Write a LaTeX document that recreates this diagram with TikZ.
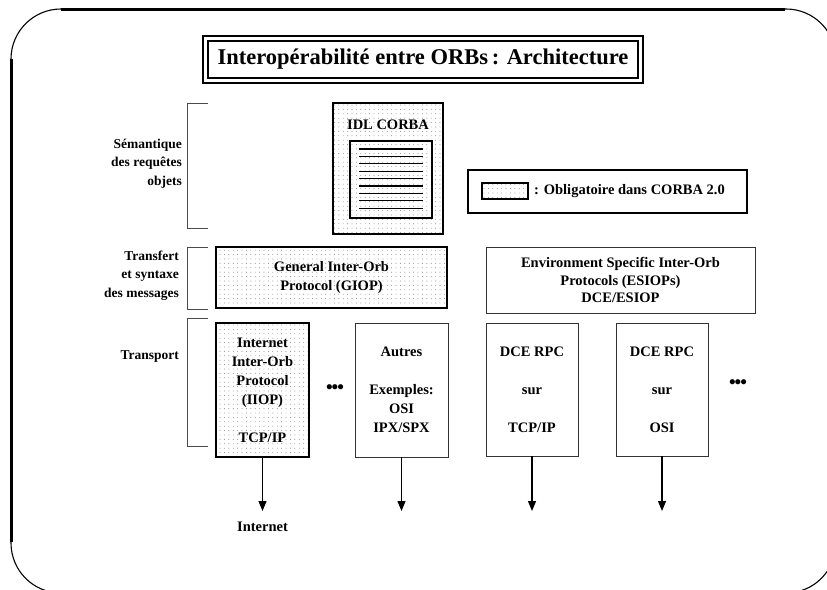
\documentclass[tikz,border=0pt]{standalone}
\usepackage{fontspec}
\setmainfont{Liberation Serif}
\usetikzlibrary{arrows.meta,patterns.meta}
\begin{document}
\begin{tikzpicture}[x=1pt,y=-1pt,
  every node/.style={font=\fontsize{14.5}{19}\selectfont\bfseries, inner sep=0pt, align=center},
  dotted fill/.style={pattern={Dots[distance=4.4pt,radius=0.45pt]}, pattern color=black!55},
  thickbox/.style={draw, line width=1.8pt, dotted fill},
  thinbox/.style={draw=black!80, line width=0.9pt},
  lbl/.style={font=\fontsize{13.5}{18.5}\selectfont\bfseries, align=right, anchor=east},
  brk/.style={draw=black!70, line width=0.8pt},
  dotsstyle/.style={font=\fontsize{19}{19}\selectfont\bfseries},
  arr/.style={line width=1.2pt, -{Triangle[length=10pt,width=8pt]}}
]
\useasboundingbox (0,0) rectangle (827,589);

% slide frame
\draw[line width=1.1pt, rounded corners=50pt] (11,9) rectangle (836,593);
\draw[line width=3pt] (61,9) -- (785,9);
\draw[line width=3pt] (11,59) -- (11,542);

% title
\node[draw, line width=2.2pt, minimum width=440pt, minimum height=47pt] (titleout) at (423,59.5) {};
\node[draw, line width=1.4pt, minimum width=430pt, minimum height=37pt,
      font=\fontsize{22.5}{26}\selectfont\bfseries] (title) at (423,59.5) {Interopérabilité entre ORBs\,: Architecture};

% left labels and brackets
\node[lbl] (lsem) at (182,163.5) {Sémantique\\des requêtes\\objets};
\node[lbl] (ltra) at (179,275.5) {Transfert\\et syntaxe\\des messages};
\node[lbl] (ltrp) at (179,357) {Transport};
\draw[brk] (208,103) -- (187,103) -- (187,228) -- (208,228);
\draw[brk] (208,247) -- (187,247) -- (187,309) -- (208,309);
\draw[brk] (208,318) -- (187,318) -- (187,446) -- (208,446);

% IDL CORBA
\node[thickbox, minimum width=110pt, minimum height=131pt] (idl) at (388,168.5) {};
\node (idltxt) at (388,125) {IDL CORBA};
\node[draw, line width=1.6pt, minimum width=82pt, minimum height=77pt] (idlin) at (391,179.5) {};
\foreach \i in {0,...,8} {
  \draw[line width=1.3pt] (359,149+7.4*\i) -- (423,149+7.4*\i);
}

% GIOP
\node[thickbox, minimum width=231pt, minimum height=61pt] (giop) at (331.5,277.5) {General Inter-Orb\\Protocol (GIOP)};

% legend
\node[draw, line width=1.6pt, minimum width=279pt, minimum height=43pt] (legend) at (607.5,191.5) {};
\node[draw, line width=1.2pt, dotted fill, minimum width=46pt, minimum height=16pt] (legsw) at (505,191) {};
\node[anchor=west] (legtxt) at (534,191) {: Obligatoire dans CORBA 2.0};

% ESIOP
\node[thinbox, minimum width=269pt, minimum height=66pt, font=\fontsize{14.5}{17.5}\selectfont\bfseries] (esiop) at (620.5,280)
  {Environment Specific Inter-Orb\\Protocols (ESIOPs)\\DCE/ESIOP};

% transport boxes
\node[thickbox, minimum width=93pt, minimum height=134pt] (iiop) at (262.5,390)
  {Internet\\Inter-Orb\\Protocol\\(IIOP)\\[19pt]TCP/IP};
\node[dotsstyle] (dots1) at (335,389) {\textbullet\kern-1pt\textbullet\kern-1pt\textbullet};
\node[thinbox, minimum width=93pt, minimum height=134pt] (autres) at (401.5,390)
  {Autres\\[19pt]Exemples:\\OSI\\IPX/SPX};
\node[thinbox, minimum width=92pt, minimum height=133pt] (dce1) at (532,389.5)
  {DCE RPC\\[19pt]sur\\[19pt]TCP/IP};
\node[thinbox, minimum width=92pt, minimum height=133pt] (dce2) at (662,389.5)
  {DCE RPC\\[19pt]sur\\[19pt]OSI};
\node[dotsstyle] (dots2) at (738,384) {\textbullet\kern-1pt\textbullet\kern-1pt\textbullet};

% arrows
\coordinate (e1) at (262.5,511);
\coordinate (e2) at (401.5,511);
\coordinate (e3) at (532,511);
\coordinate (e4) at (662,511);
\draw[arr] (iiop.south) -- (e1);
\draw[arr] (autres.south) -- (e2);
\draw[arr] (dce1.south) -- (e3);
\draw[arr] (dce2.south) -- (e4);
\node (inet) at (262.5,527) {Internet};
\end{tikzpicture}
\end{document}
